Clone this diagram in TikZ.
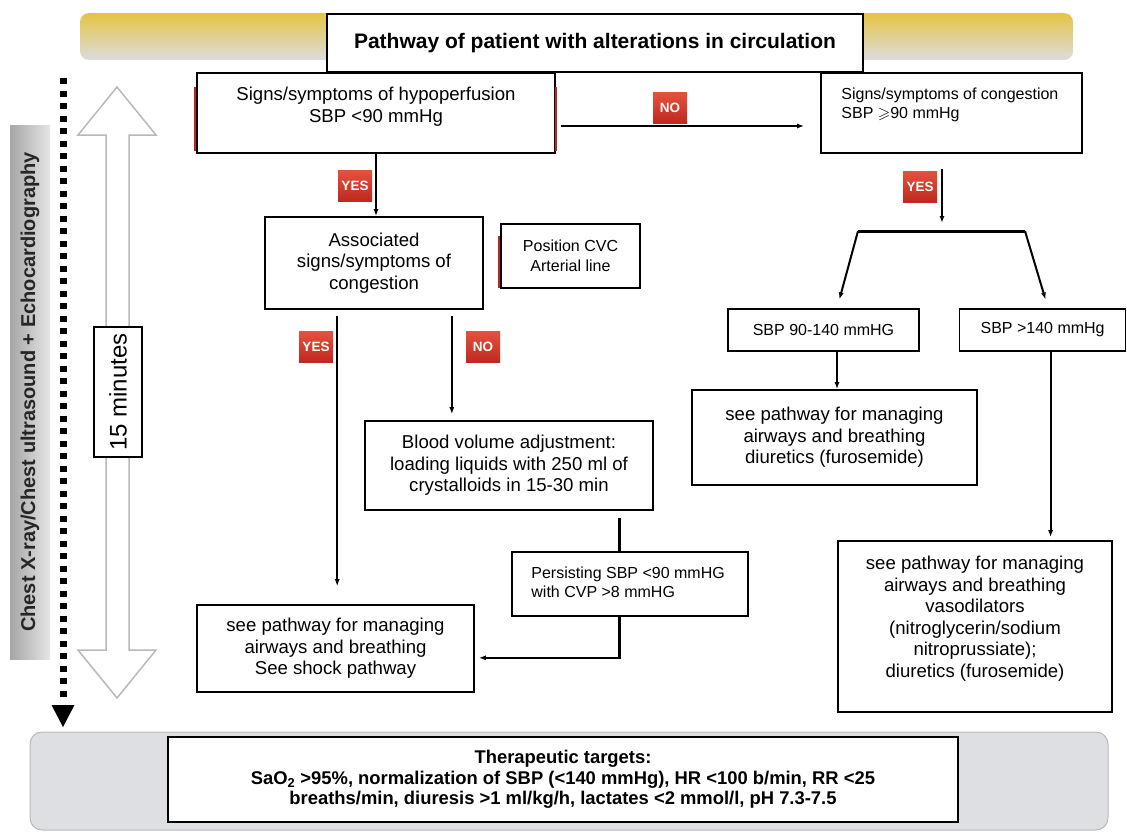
\documentclass[tikz,border=0pt]{standalone}
\usepackage{fontspec}
\setmainfont{Liberation Sans}
\usepackage{amssymb}
\usetikzlibrary{positioning,arrows.meta,calc}
\definecolor{tagtop}{RGB}{228,82,62}
\definecolor{tagbot}{RGB}{190,40,30}
\definecolor{gold}{RGB}{230,196,67}
\definecolor{haze}{RGB}{220,220,224}
\definecolor{panelgray}{RGB}{222,223,227}
\definecolor{edgered}{RGB}{178,40,40}
\newcommand{\txtA}{\fontsize{18.6}{21.5}\selectfont}
\newcommand{\txtB}{\fontsize{16}{19.5}\selectfont}
\tikzstyle{box}=[draw,line width=1.6pt,fill=white,align=center,inner sep=0pt,font=\txtA]
\tikzstyle{tag}=[top color=tagtop,bottom color=tagbot,text=white,font=\bfseries\fontsize{13.5}{14}\selectfont,minimum width=34pt,minimum height=31pt,inner sep=0pt]
\tikzstyle{flow}=[every edge/.style={draw,line width=1.8pt,->,>={Latex[length=7pt,width=5pt]}}]
\tikzstyle{toptext}=[inner sep=0pt,font=\txtA,align=center]

\begin{document}
\begin{tikzpicture}[x=1pt,y=-1pt]
  \useasboundingbox (0,0) rectangle (1127,831);

  \shade[top color=gold,bottom color=haze,rounded corners=9pt] (80,13) rectangle (1073,60);
  \node(title)[box,minimum width=536pt,minimum height=58pt,font=\bfseries\fontsize{21}{24}\selectfont] at (595,43) {Pathway of patient with alterations in circulation};

  \shade[left color=gray!70,right color=gray!20] (10,125) rectangle (50,659);
  \node(exam)[rotate=90,font=\bfseries\fontsize{20}{22}\selectfont,text=black!85] at (30,392) {Chest X-ray/Chest ultrasound + Echocardiography};

  \coordinate(dtop) at (63,78);
  \coordinate(dend) at (63,727);
  \draw[line width=7pt,dash pattern=on 6pt off 6.5pt] (dtop) -- ([yshift=27pt]dend);
  \fill (dend) -- ++(-11.5,-22) -- ++(23,0) -- cycle;

  \draw[draw=gray!55,line width=1.5pt,fill=white] (117,87) -- (156,135) -- (129,135) -- (129,650) -- (156,650) -- (117,698) -- (78,650) -- (106,650) -- (106,135) -- (78,135) -- cycle;
  \node(mins)[box,rotate=90,minimum width=130pt,minimum height=48pt,font=\fontsize{24}{26}\selectfont] at (118,392) {15 minutes};

  \node(hypo)[box,minimum width=358pt,minimum height=80pt,label={[toptext,anchor=north,yshift=-15pt]north:{Signs/symptoms of hypoperfusion\\SBP <90 mmHg}}] at (376,113) {};
  \node(cong)[box,minimum width=261pt,minimum height=80pt,label={[toptext,anchor=north west,xshift=21pt,yshift=-15pt,align=left,font=\txtB]north west:{Signs/symptoms of congestion\\SBP $\geqslant$90 mmHg}}] at (951.5,113) {};
  \node(assoc)[box,minimum width=218pt,minimum height=92pt] at (374,263) {Associated\\signs/symptoms of\\congestion};
  \node(cvc)[box,minimum width=139pt,minimum height=64pt,font=\txtB] at (570.5,256) {Position CVC\\Arterial line};
  \node(blood)[box,minimum width=288pt,minimum height=89pt] at (509,465.5) {Blood volume adjustment:\\loading liquids with 250 ml of\\crystalloids in 15-30 min};
  \node(pers)[box,minimum width=236pt,minimum height=64pt,label={[toptext,anchor=north west,xshift=20pt,yshift=-15pt,align=left,font=\txtB]north west:{Persisting SBP <90 mmHG\\with CVP >8 mmHG}}] at (630,584) {};
  \node(shock)[box,minimum width=277pt,minimum height=87pt] at (335.5,648.5) {see pathway for managing\\airways and breathing\\See shock pathway};
  \node(sbpA)[box,minimum width=191pt,minimum height=42pt,font=\txtB] at (823.5,330) {SBP 90-140 mmHG};
  \node(sbpB)[box,minimum width=166pt,minimum height=42pt,font=\txtB,right=39pt of sbpA] {SBP >140 mmHg};
  \node(diur)[box,minimum width=285pt,minimum height=95pt] at (834.5,437.5) {see pathway for managing\\airways and breathing\\diuretics (furosemide)};
  \node(vaso)[box,minimum width=274pt,minimum height=171pt,label={[toptext,anchor=north,yshift=-16pt]north:{see pathway for managing\\airways and breathing\\vasodilators\\(nitroglycerin/sodium\\nitroprussiate);\\diuretics (furosemide)}}] at (975,626.5) {};

  \node(yesA)[tag] at (355,186) {YES};
  \node(noA)[tag] at (670,108) {NO};
  \node(yesB)[tag] at (316,347) {YES};
  \node(noB)[tag] at (483,347) {NO};
  \node(yesC)[tag] at (920,187) {YES};

  \coordinate(tapA) at ([yshift=-13pt]hypo.east);
  \coordinate(tapB) at ([xshift=73pt]assoc.south west);
  \coordinate(tapC) at ([xshift=-32pt]assoc.south east);
  \coordinate(tapD) at ([xshift=108pt]pers.north west);
  \coordinate(turn) at ($(tapD |- pers.south)+(0,41)$);
  \coordinate(tapE) at ([xshift=-9.5pt]cong.south);
  \coordinate(barL) at (858,231);
  \coordinate(barR) at (1025,231);
  \coordinate(tapF) at ([xshift=13.5pt]sbpA.south);
  \coordinate(tapG) at ([xshift=8pt]sbpB.south);

  \path[flow]
    (hypo.south) edge (hypo.south |- assoc.north)
    (tapA) edge[shorten <=5pt,shorten >=16pt] (tapA -| cong.west)
    (tapB) edge[shorten <=6pt,shorten >=18pt] (tapB |- shock.north)
    (tapC) edge[shorten <=6pt,shorten >=6pt] (tapC |- blood.north)
    (tapE) edge[shorten <=15pt,shorten >=8pt] (tapE |- barL)
    (barL) edge[line width=2pt,shorten >=9pt] ([xshift=13.5pt]sbpA.north)
    (barR) edge[line width=2pt,shorten >=9pt] ([xshift=5.5pt]sbpB.north)
    (tapF) edge (tapF |- diur.north)
    (tapG) edge[shorten >=3pt] (tapG |- vaso.north)
    (turn) edge[shorten >=4pt] (turn -| shock.east);

  \path[draw,line width=3pt]
    (tapD |- blood.south) edge[shorten <=7pt] (tapD)
    (tapD |- pers.south) edge[line cap=rect] (turn)
    (barL) edge (barR);

  \path[draw=edgered,line width=2.2pt]
    ([xshift=-1.5pt,yshift=-15pt]hypo.north west) edge ([xshift=-1.5pt,yshift=3pt]hypo.south west)
    ([xshift=0.5pt,yshift=-15pt]hypo.north east) edge ([xshift=0.5pt,yshift=3pt]hypo.south east)
    ([xshift=-1.5pt,yshift=-13pt]cvc.north west) edge ([xshift=-1.5pt,yshift=1pt]cvc.south west);

  \draw[draw=gray!55,fill=panelgray,rounded corners=12pt,line width=1pt] (30,732) rectangle (1108,830);
  \node(goal)[box,minimum width=790pt,minimum height=85pt,font=\bfseries\fontsize{18.4}{20.5}\selectfont] at (563,779.5) {Therapeutic targets:\\SaO\textsubscript{2} >95\%, normalization of SBP (<140 mmHg), HR <100 b/min, RR <25\\breaths/min, diuresis >1 ml/kg/h, lactates <2 mmol/l, pH 7.3-7.5};
\end{tikzpicture}
\end{document}
